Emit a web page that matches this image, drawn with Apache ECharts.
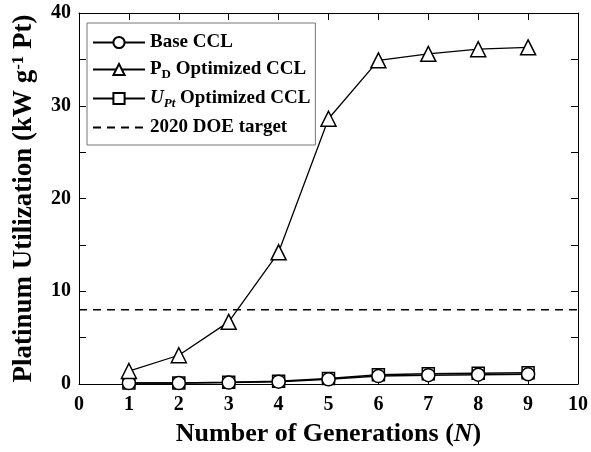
<!DOCTYPE html>
<html>
<head>
<meta charset="utf-8">
<script src="https://cdn.jsdelivr.net/npm/echarts@6/dist/echarts.min.js"></script>
<style>
  html, body { margin: 0; padding: 0; background: #fff; }
  #chart { width: 591px; height: 452px; }
</style>
</head>
<body>
<div id="chart"></div>
<script>
// values
const generations = [1, 2, 3, 4, 5, 6, 7, 8, 9]
const baseCCL = [0.1, 0.1, 0.15, 0.25, 0.5, 0.85, 0.95, 1.0, 1.05]
const pdOptimized = [1.4, 3.1, 6.7, 14.2, 28.6, 34.9, 35.6, 36.1, 36.3]
const uptOptimized = [0.1, 0.12, 0.18, 0.3, 0.6, 1.0, 1.1, 1.15, 1.2]
const doeTarget = 8
const xRange = [0, 10]

const font = 'Liberation Serif'
const toPairs = ys => generations.map((g, i) => [g, ys[i]])

const chart = echarts.init(document.getElementById('chart'))

const markerStyle = { color: '#fff', borderColor: '#000', borderWidth: 1.5 }

// box frame: every side gets its own axis with inward ticks
const frameAxis = () => ({
  axisLine: { show: true, onZero: false, lineStyle: { color: '#000', width: 1 } },
  axisTick: { show: true, inside: true, length: 7, lineStyle: { color: '#000', width: 1 } },
  splitLine: { show: false }
})

const option = {
  animation: false,
  grid: { left: 79, right: 11, top: 13, bottom: 67 },
  legend: {
    left: 87,
    top: 23,
    orient: 'vertical',
    backgroundColor: '#fff',
    borderColor: '#777',
    borderWidth: 1,
    padding: [10, 5, 8, 5],
    itemWidth: 52,
    itemHeight: 14,
    itemGap: 8,
    data: ['Base CCL', 'PD Optimized CCL', 'UPt Optimized CCL', '2020 DOE target'],
    formatter: name => {
      if (name === 'PD Optimized CCL') return '{b|P}{sub|D}{b| Optimized CCL}'
      if (name === 'UPt Optimized CCL') return '{i|U}{isub|Pt}{b| Optimized CCL}'
      return '{b|' + name + '}'
    },
    textStyle: {
      fontFamily: font,
      fontWeight: 'bold',
      fontSize: 19,
      color: '#000',
      rich: {
        b: { fontFamily: font, fontWeight: 'bold', fontSize: 19, color: '#000' },
        sub: { fontFamily: font, fontWeight: 'bold', fontSize: 13, color: '#000', padding: [10, 0, 0, 0] },
        i: { fontFamily: font, fontWeight: 'bold', fontStyle: 'italic', fontSize: 19, color: '#000' },
        isub: { fontFamily: font, fontWeight: 'bold', fontStyle: 'italic', fontSize: 13, color: '#000', padding: [10, 0, 0, 0] }
      }
    }
  },
  xAxis: [
    {
      type: 'value',
      min: xRange[0],
      max: xRange[1],
      interval: 1,
      ...frameAxis(),
      axisLabel: { fontFamily: font, fontWeight: 'bold', fontSize: 20, color: '#000', margin: 11 },
      name: '{b|Number of Generations (}{i|N}{b|)}',
      nameLocation: 'middle',
      nameGap: 37,
      nameTextStyle: {
        rich: {
          b: { fontFamily: font, fontWeight: 'bold', fontSize: 26, color: '#000' },
          i: { fontFamily: font, fontWeight: 'bold', fontStyle: 'italic', fontSize: 26, color: '#000' }
        }
      }
    },
    {
      type: 'value',
      position: 'top',
      min: xRange[0],
      max: xRange[1],
      interval: 1,
      ...frameAxis(),
      axisLabel: { show: false }
    }
  ],
  yAxis: [
    {
      type: 'value',
      min: 0,
      max: 40,
      interval: 10,
      ...frameAxis(),
      minorTick: { show: true, splitNumber: 2, length: 7, lineStyle: { color: '#000' } },
      axisLabel: { fontFamily: font, fontWeight: 'bold', fontSize: 20, color: '#000', margin: 8 },
      name: '{b|Platinum Utilization (kW g}{sup|-1}{b| Pt)}',
      nameLocation: 'middle',
      nameRotate: 90,
      nameGap: 40,
      nameTextStyle: {
        rich: {
          b: { fontFamily: font, fontWeight: 'bold', fontSize: 27, color: '#000' },
          sup: { fontFamily: font, fontWeight: 'bold', fontSize: 17, color: '#000', padding: [0, 0, 12, 0] }
        }
      }
    },
    {
      type: 'value',
      position: 'right',
      min: 0,
      max: 40,
      interval: 10,
      ...frameAxis(),
      minorTick: { show: true, splitNumber: 2, length: 7, lineStyle: { color: '#000' } },
      axisLabel: { show: false }
    }
  ],
  series: [
    {
      name: 'UPt Optimized CCL',
      type: 'line',
      data: toPairs(uptOptimized),
      symbol: 'rect',
      symbolSize: 12,
      lineStyle: { color: '#000', width: 1.5 },
      itemStyle: markerStyle,
      z: 2
    },
    {
      name: 'Base CCL',
      type: 'line',
      data: toPairs(baseCCL),
      symbol: 'circle',
      symbolSize: 13,
      lineStyle: { color: '#000', width: 1.5 },
      itemStyle: markerStyle,
      z: 3
    },
    {
      name: 'PD Optimized CCL',
      type: 'line',
      data: toPairs(pdOptimized),
      symbol: 'triangle',
      symbolSize: 15,
      lineStyle: { color: '#000', width: 1.3 },
      itemStyle: markerStyle,
      z: 4
    },
    {
      name: '2020 DOE target',
      type: 'line',
      data: [[xRange[0], doeTarget], [xRange[1], doeTarget]],
      symbol: 'circle',
      showSymbol: false,
      lineStyle: { color: '#000', width: 1.5, type: [8, 6] },
      itemStyle: { color: 'rgba(0,0,0,0)', borderWidth: 0 },
      z: 1
    }
  ]
}

chart.setOption(option)
</script>
</body>
</html>
